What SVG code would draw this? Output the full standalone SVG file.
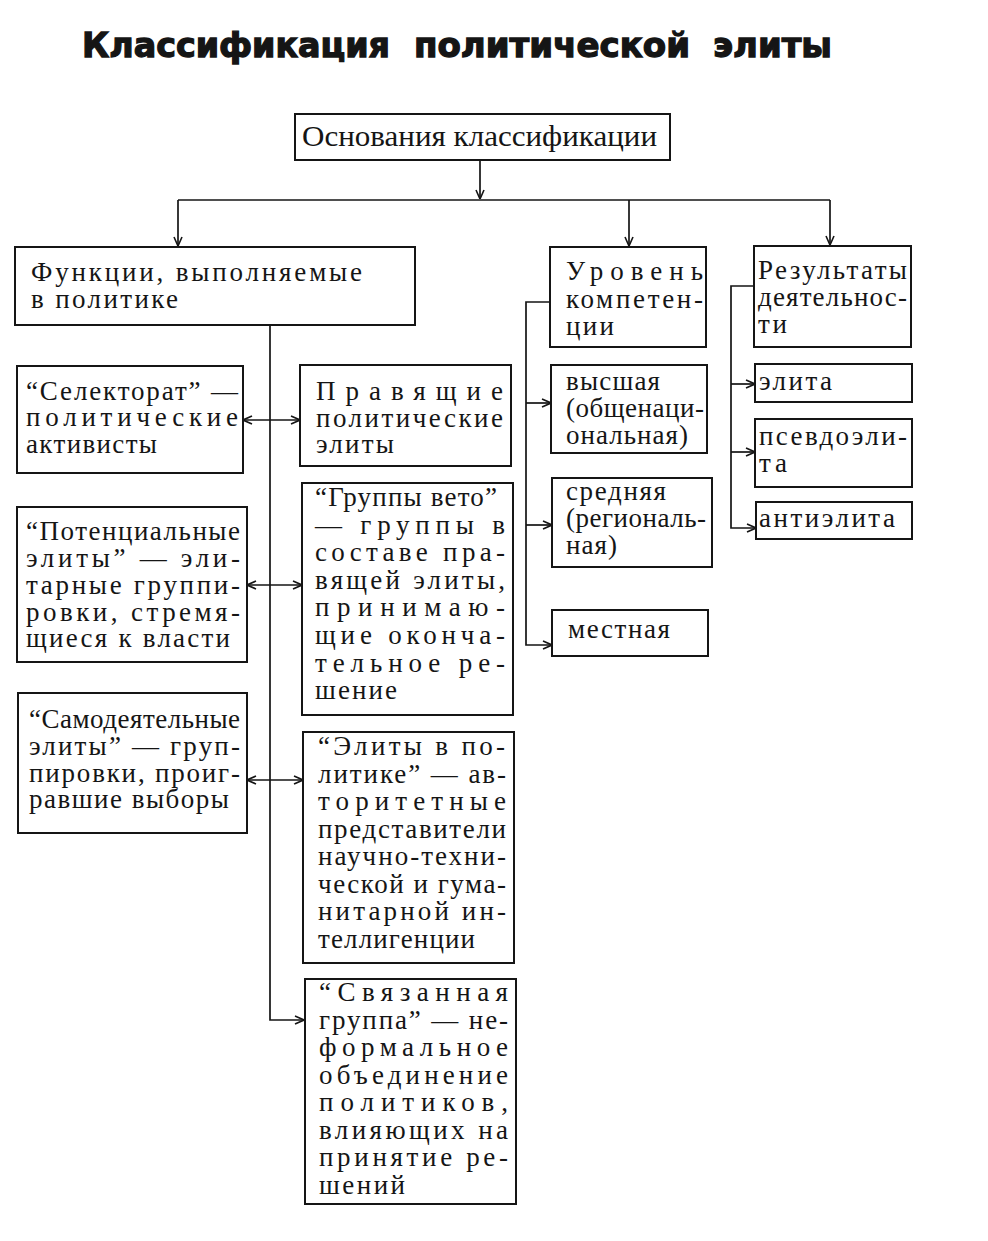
<svg xmlns="http://www.w3.org/2000/svg" width="988" height="1241" viewBox="0 0 988 1241">
<style>
.bx{fill:#fff;stroke:#151515;stroke-width:2}
.t{font-family:'Liberation Serif','DejaVu Serif',serif;font-size:27px;fill:#151515}
.h{font-family:'DejaVu Sans','Liberation Sans',sans-serif;font-weight:900;font-size:34px;fill:#151515;stroke:#151515;stroke-width:1.3}
.c{fill:none;stroke:#151515;stroke-width:1.7}
</style>
<defs>
<marker id="ar" viewBox="0 0 10 10" refX="10" refY="5" markerWidth="10" markerHeight="10" markerUnits="userSpaceOnUse" orient="auto-start-reverse">
<path d="M1,1 L10,5 L1,9" fill="none" stroke="#151515" stroke-width="1.6"/>
</marker>
</defs>
<rect width="988" height="1241" fill="#fff"/>
<g id="title">
<text class="h" x="82" y="57" textLength="308" lengthAdjust="spacingAndGlyphs">Классификация</text>
<text class="h" x="414" y="57" textLength="276" lengthAdjust="spacingAndGlyphs">политической</text>
<text class="h" x="713" y="57" textLength="119" lengthAdjust="spacingAndGlyphs">элиты</text>
</g>
<g id="connectors">
<path class="c" d="M480,161 V199" marker-end="url(#ar)"/>
<path class="c" d="M178,200 H830"/>
<path class="c" d="M178,200 V246" marker-end="url(#ar)"/>
<path class="c" d="M629,200 V246" marker-end="url(#ar)"/>
<path class="c" d="M830,200 V245" marker-end="url(#ar)"/>
<path class="c" d="M270,325 V1020 H304" marker-end="url(#ar)"/>
<path class="c" d="M243,420 H300" marker-start="url(#ar)" marker-end="url(#ar)"/>
<path class="c" d="M247,585 H302" marker-start="url(#ar)" marker-end="url(#ar)"/>
<path class="c" d="M247,780 H303" marker-start="url(#ar)" marker-end="url(#ar)"/>
<path class="c" d="M550,302 H526 V645 H552" marker-end="url(#ar)"/>
<path class="c" d="M526,403 H551" marker-end="url(#ar)"/>
<path class="c" d="M526,525 H552" marker-end="url(#ar)"/>
<path class="c" d="M754,286 H731 V528 H756" marker-end="url(#ar)"/>
<path class="c" d="M731,384 H755" marker-end="url(#ar)"/>
<path class="c" d="M731,452 H755" marker-end="url(#ar)"/>
</g>
<g id="n-osnovaniya">
<rect class="bx" x="295" y="114" width="375" height="46"/>
<text class="t" x="302" y="146" textLength="355" lengthAdjust="spacingAndGlyphs" style="font-size:29px">Основания классификации</text>
</g>
<g id="n-funkcii">
<rect class="bx" x="15" y="247" width="400" height="78"/>
<text class="t" x="31" y="281" textLength="331">Функции, выполняемые</text>
<text class="t" x="31" y="308" textLength="147">в политике</text>
</g>
<g id="n-uroven">
<rect class="bx" x="550" y="247" width="156" height="100"/>
<text class="t" x="566" y="280" textLength="137">Уровень</text>
<text class="t" x="566" y="308" textLength="137">компетен-</text>
<text class="t" x="566" y="335" textLength="48">ции</text>
</g>
<g id="n-rezultaty">
<rect class="bx" x="754" y="246" width="157" height="101"/>
<text class="t" x="758" y="279" textLength="149">Результаты</text>
<text class="t" x="758" y="306" textLength="149">деятельнос-</text>
<text class="t" x="758" y="333" textLength="29">ти</text>
</g>
<g id="n-selektorat">
<rect class="bx" x="17" y="366" width="226" height="107"/>
<text class="t" x="26" y="400" textLength="212">“Селекторат” —</text>
<text class="t" x="26" y="426" textLength="212">политические</text>
<text class="t" x="26" y="453" textLength="131">активисты</text>
</g>
<g id="n-pravyashchie">
<rect class="bx" x="300" y="365" width="211" height="101"/>
<text class="t" x="316" y="400" textLength="187">Правящие</text>
<text class="t" x="316" y="427" textLength="187">политические</text>
<text class="t" x="316" y="453" textLength="78">элиты</text>
</g>
<g id="n-potencialnye">
<rect class="bx" x="17" y="507" width="230" height="155"/>
<text class="t" x="26" y="540" textLength="214">“Потенциальные</text>
<text class="t" x="26" y="567" textLength="214">элиты” — эли-</text>
<text class="t" x="26" y="594" textLength="214">тарные группи-</text>
<text class="t" x="26" y="621" textLength="214">ровки, стремя-</text>
<text class="t" x="26" y="647" textLength="204">щиеся к власти</text>
</g>
<g id="n-veto">
<rect class="bx" x="302" y="483" width="211" height="232"/>
<text class="t" x="315" y="506" textLength="182">“Группы вето”</text>
<text class="t" x="315" y="533.6" textLength="190">— группы в</text>
<text class="t" x="315" y="561.2" textLength="190">составе пра-</text>
<text class="t" x="315" y="588.8" textLength="190">вящей элиты,</text>
<text class="t" x="315" y="616.4" textLength="190">принимаю-</text>
<text class="t" x="315" y="644" textLength="190">щие оконча-</text>
<text class="t" x="315" y="671.6" textLength="190">тельное ре-</text>
<text class="t" x="315" y="699.2" textLength="82">шение</text>
</g>
<g id="n-samodeyatelnye">
<rect class="bx" x="18" y="693" width="229" height="140"/>
<text class="t" x="29" y="728" textLength="211">“Самодеятельные</text>
<text class="t" x="29" y="755" textLength="211">элиты” — груп-</text>
<text class="t" x="29" y="782" textLength="211">пировки, проиг-</text>
<text class="t" x="29" y="808" textLength="200">равшие выборы</text>
</g>
<g id="n-elity-v-politike">
<rect class="bx" x="303" y="732" width="211" height="231"/>
<text class="t" x="318" y="755" textLength="187">“Элиты в по-</text>
<text class="t" x="318" y="782.6" textLength="188">литике” — ав-</text>
<text class="t" x="318" y="810.1" textLength="188">торитетные</text>
<text class="t" x="318" y="837.7" textLength="188">представители</text>
<text class="t" x="318" y="865.3" textLength="188">научно-техни-</text>
<text class="t" x="318" y="892.9" textLength="188">ческой и гума-</text>
<text class="t" x="318" y="920.4" textLength="188">нитарной ин-</text>
<text class="t" x="318" y="948" textLength="157">теллигенции</text>
</g>
<g id="n-svyazannaya">
<rect class="bx" x="305" y="979" width="211" height="225"/>
<text class="t" x="319" y="1001" textLength="189">“Связанная</text>
<text class="t" x="319" y="1028.5" textLength="189">группа” — не-</text>
<text class="t" x="319" y="1056" textLength="189">формальное</text>
<text class="t" x="319" y="1083.5" textLength="189">объединение</text>
<text class="t" x="319" y="1111" textLength="189">политиков,</text>
<text class="t" x="319" y="1138.5" textLength="189">влияющих на</text>
<text class="t" x="319" y="1166" textLength="189">принятие ре-</text>
<text class="t" x="319" y="1193.5" textLength="86">шений</text>
</g>
<g id="n-vysshaya">
<rect class="bx" x="551" y="365" width="156" height="88"/>
<text class="t" x="566" y="390" textLength="94">высшая</text>
<text class="t" x="566" y="417" textLength="138">(общенаци-</text>
<text class="t" x="566" y="444" textLength="122">ональная)</text>
</g>
<g id="n-srednyaya">
<rect class="bx" x="552" y="478" width="160" height="89"/>
<text class="t" x="566" y="500" textLength="100">средняя</text>
<text class="t" x="566" y="527" textLength="140">(региональ-</text>
<text class="t" x="566" y="554" textLength="51">ная)</text>
</g>
<g id="n-mestnaya">
<rect class="bx" x="552" y="610" width="156" height="46"/>
<text class="t" x="568" y="638" textLength="102">местная</text>
</g>
<g id="n-elita">
<rect class="bx" x="755" y="364" width="157" height="38"/>
<text class="t" x="759" y="390" textLength="73">элита</text>
</g>
<g id="n-psevdoelita">
<rect class="bx" x="755" y="419" width="157" height="68"/>
<text class="t" x="759" y="445" textLength="148">псевдоэли-</text>
<text class="t" x="759" y="472" textLength="28">та</text>
</g>
<g id="n-antielita">
<rect class="bx" x="756" y="502" width="156" height="37"/>
<text class="t" x="759" y="527" textLength="136">антиэлита</text>
</g>
</svg>
